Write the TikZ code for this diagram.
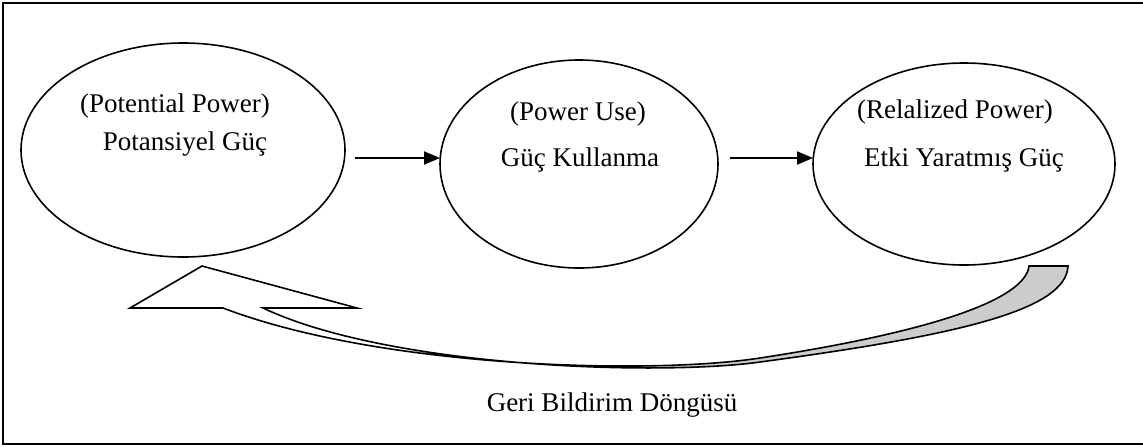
\documentclass[tikz,border=0pt]{standalone}
\usepackage{fontspec}
\setmainfont{Liberation Serif}
\usetikzlibrary{arrows.meta}
\begin{document}
\begin{tikzpicture}[x=0.5pt,y=-0.5pt,
  oval/.style={line width=0.8pt},
  lbl/.style={anchor=base,inner sep=0pt,font=\fontsize{13.5}{16}\selectfont},
  flow/.style={line width=1pt,-{Triangle[length=8pt,width=6.5pt]}},
  band/.style={line width=0.8pt,line join=miter}]
\useasboundingbox (0,0) rectangle (1143,446);
% outer frame (open on the right)
\draw[line width=1pt] (1150,3) -- (3,3) -- (3,444) -- (1150,444);

% the three stages
\coordinate (c1) at (183,150);
\coordinate (c2) at (579,164);
\coordinate (c3) at (964,164);
\draw[oval] (c1) ellipse [x radius=162, y radius=107];
\draw[oval] (c2) ellipse [x radius=139, y radius=104];
\draw[oval] (c3) ellipse [x radius=151, y radius=101];

\node[lbl] (t1a) at (175,112) {(Potential Power)};
\node[lbl] (t1b) at (185,150) {Potansiyel Güç};
\node[lbl] (t2a) at (578,120) {(Power Use)};
\node[lbl] (t2b) at (580,166) {Güç Kullanma};
\node[lbl] (t3a) at (955,118) {(Relalized Power)};
\node[lbl] (t3b) at (964,166) {Etki Yaratmış Güç};
\node[lbl] (fb) at (612,411) {Geri Bildirim Döngüsü};

% forward arrows
\draw[flow] ([shift={(172,8)}]c1) -- ([shift={(-139,-6)}]c2);
\draw[flow] ([shift={(151,-6)}]c2) -- ([shift={(-151,-6)}]c3);

% feedback ribbon: the twisted back face is shaded
\begin{scope}
\clip (545,0) rectangle (1143,446);
\fill[gray!40] (1068,266) .. controls (1066,310) and (960,335) .. (760,362)
  .. controls (660,376) and (390,368) .. (263,308) -- (223,308)
  .. controls (380,368) and (650,375) .. (760,358)
  .. controls (930,332) and (1025,300) .. (1029,266) -- cycle;
\end{scope}
% feedback ribbon outline with its arrow head
\draw[band] (1029,266) .. controls (1025,300) and (930,332) .. (760,358)
  .. controls (650,375) and (380,368) .. (223,308)
  -- (130,308) -- (202,266) -- (357,308) -- (263,308)
  .. controls (390,368) and (660,376) .. (760,362)
  .. controls (960,335) and (1066,310) .. (1068,266) -- cycle;
\end{tikzpicture}
\end{document}
